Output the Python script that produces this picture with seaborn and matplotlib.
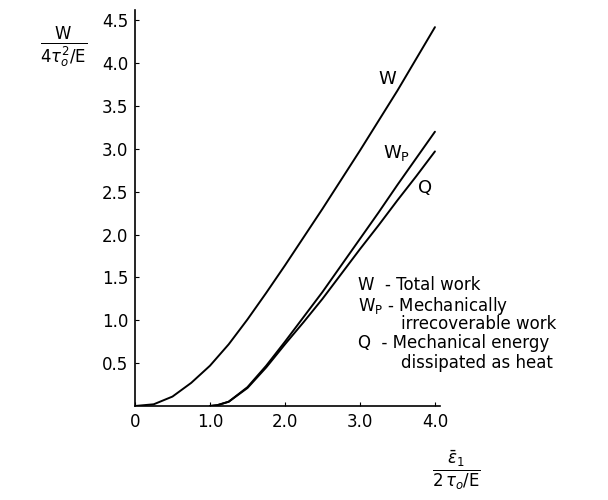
import numpy as np
import pandas as pd
import seaborn as sns
import matplotlib.pyplot as plt

# strain values (normalised)
x_w = [0.0, 0.25, 0.5, 0.75, 1.0, 1.25, 1.5, 1.75, 2.0, 2.25, 2.5, 2.75, 3.0, 3.25, 3.5, 3.75, 4.0]
w_total = [0.0, 0.02, 0.11, 0.27, 0.47, 0.72, 1.01, 1.32, 1.64, 1.97, 2.3, 2.64, 2.98, 3.33, 3.68, 4.05, 4.42]

x_p = [1.0, 1.1, 1.25, 1.5, 1.75, 2.0, 2.25, 2.5, 2.75, 3.0, 3.25, 3.5, 3.75, 4.0]
w_plastic = [0.0, 0.01, 0.05, 0.22, 0.47, 0.75, 1.04, 1.33, 1.64, 1.95, 2.26, 2.58, 2.89, 3.2]
q_heat = [0.0, 0.01, 0.05, 0.21, 0.45, 0.72, 0.98, 1.25, 1.54, 1.83, 2.11, 2.4, 2.68, 2.97]

sns.set_style("ticks")
plt.rcParams['font.family'] = ['DejaVu Sans']
plt.rcParams['text.color'] = 'black'

fig = plt.figure(figsize=(6.08, 5.0), dpi=100)
ax = fig.add_axes([0.222, 0.188, 0.502, 0.792])

sns.lineplot(x=x_w, y=w_total, ax=ax, color='black', lw=1.4)
sns.lineplot(x=x_p, y=w_plastic, ax=ax, color='black', lw=1.4)
sns.lineplot(x=x_p, y=q_heat, ax=ax, color='black', lw=1.4)

ax.set_xlim(0, 4.07)
ax.set_ylim(0, 4.62)
ax.set_xticks([0, 1, 2, 3, 4])
ax.set_xticklabels(['0', '1.0', '2.0', '3.0', '4.0'])
ax.set_yticks([0.5, 1.0, 1.5, 2.0, 2.5, 3.0, 3.5, 4.0, 4.5])
ax.set_yticklabels(['0.5', '1.0', '1.5', '2.0', '2.5', '3.0', '3.5', '4.0', '4.5'])
ax.tick_params(direction='in', length=3, labelsize=12, colors='black', pad=5)
sns.despine(ax=ax)
for s in ['left', 'bottom']:
    ax.spines[s].set_color('black')
    ax.spines[s].set_linewidth(1.2)

# axis labels as fractions
fig.text(0.105, 0.905, r'$\frac{\mathrm{W}}{4\tau_o^2/\mathrm{E}}$', fontsize=17, ha='center', va='center')
fig.text(0.75, 0.06, r'$\frac{\bar{\varepsilon}_1}{2\,\tau_o/\mathrm{E}}$', fontsize=17, ha='center', va='center')

# curve labels
ax.text(3.24, 3.82, 'W', fontsize=13, va='center')
ax.text(3.31, 2.95, r'W$_\mathrm{P}$', fontsize=13, va='center')
ax.text(3.77, 2.54, 'Q', fontsize=13, va='center')

# key
key = [
    (2.98, 1.41, 'W  - Total work'),
    (2.98, 1.17, r'W$_\mathrm{P}$ - Mechanically'),
    (3.55, 0.96, 'irrecoverable work'),
    (2.98, 0.73, 'Q  - Mechanical energy'),
    (3.55, 0.50, 'dissipated as heat'),
]
for xx, yy, t in key:
    ax.text(xx, yy, t, fontsize=12, va='center', clip_on=False)

fig.savefig('out.png', dpi=100)
